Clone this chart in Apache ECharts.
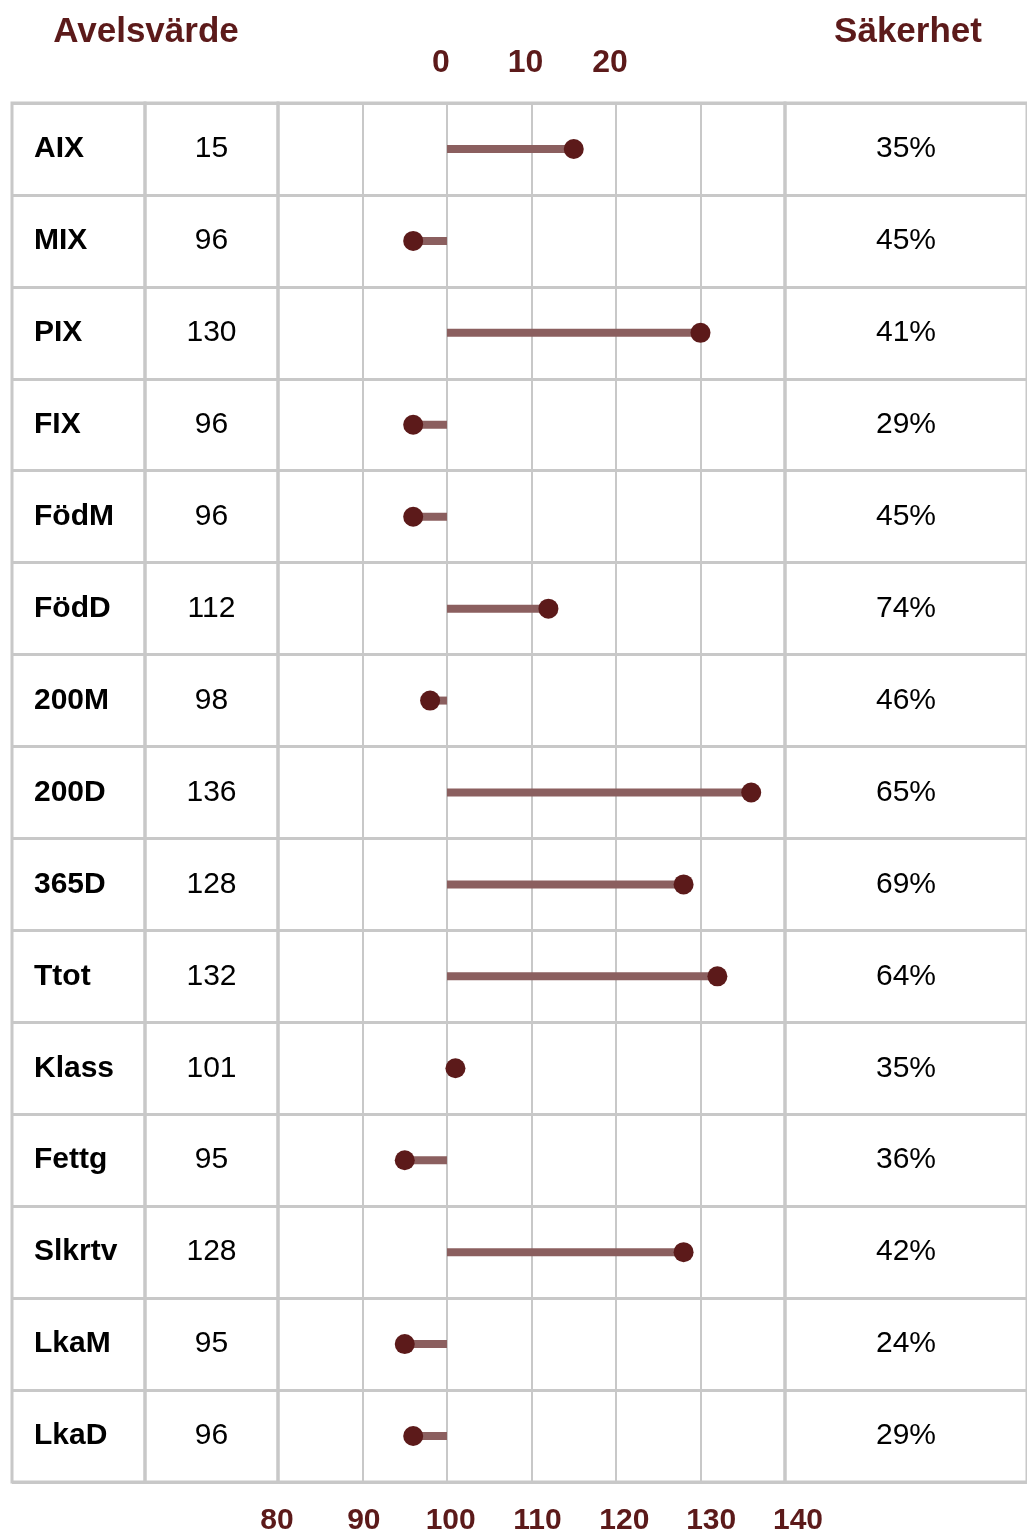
<!DOCTYPE html>
<html>
<head>
<meta charset="utf-8">
<script src="https://cdn.jsdelivr.net/npm/echarts@6/dist/echarts.min.js"></script>
<style>
html,body{margin:0;padding:0;background:#fff;}
#chart{width:1027px;height:1537px;}
</style>
</head>
<body>
<div id="chart"></div>
<script>
const categories = ['AIX','MIX','PIX','FIX','FödM','FödD','200M','200D','365D','Ttot','Klass','Fettg','Slkrtv','LkaM','LkaD'];
const avelsvarde = [15,96,130,96,96,112,98,136,128,132,101,95,128,95,96];
const sakerhet = [35,45,41,29,45,74,46,65,69,64,35,36,42,24,29];
const bottomTicks = [80,90,100,110,120,130,140];
const topTicks = [0,10,20];
const mainBase = 100;
const aixBase = 0;

const FONT = '"Liberation Sans", Arial, sans-serif';
const MAROON = '#5c1a1a';
const BAR = '#8b5f5f';
const LINE = '#c8c8c8';

const chart = echarts.init(document.getElementById('chart'), null, {renderer:'canvas'});

const TOP = 103, H = 1379;
function grid(left, width){
  return {left:left, width:width, top:TOP, height:H, show:true, borderColor:LINE, borderWidth:3, backgroundColor:'transparent', containLabel:false};
}
function catY(gridIndex, split){
  return {type:'category', gridIndex:gridIndex, data:categories, inverse:true,
    axisLine:{show:false}, axisTick:{show:false}, axisLabel:{show:false},
    splitLine:{show:split, lineStyle:{color:LINE, width:3}}};
}
function hiddenX(gridIndex){
  return {type:'value', gridIndex:gridIndex, min:0, max:1, show:false};
}

const mainRows = [], aixRows = [];
avelsvarde.forEach((v,i)=>{
  if(i===0) aixRows.push([v,i,aixBase]); else mainRows.push([v,i,mainBase]);
});

function lollipopLine(xIdx, yIdx, data){
  return {type:'custom', xAxisIndex:xIdx, yAxisIndex:yIdx, data:data, z:2,
    encode:{x:0,y:1},
    renderItem:function(params, api){
      const s = api.coord([api.value(2), api.value(1)]);
      const e = api.coord([api.value(0), api.value(1)]);
      return {type:'line', shape:{x1:s[0],y1:s[1],x2:e[0],y2:e[1]}, style:{stroke:BAR, lineWidth:8}};
    }};
}
function dots(xIdx, yIdx, data){
  return {type:'scatter', xAxisIndex:xIdx, yAxisIndex:yIdx, z:3, symbolSize:20,
    itemStyle:{color:MAROON, opacity:1}, data:data.map(d=>[d[0],d[1]])};
}
function textCol(xIdx, yIdx, x, texts, bold, align){
  return {type:'custom', xAxisIndex:xIdx, yAxisIndex:yIdx, z:4,
    data:texts.map((t,i)=>[x,i]),
    encode:{x:0,y:1},
    renderItem:function(params, api){
      const p = api.coord([api.value(0), api.value(1)]);
      return {type:'text', x:p[0], y:p[1],
        style:{text:texts[params.dataIndex], fill:'#000', fontSize:30, fontFamily:FONT,
          fontWeight:bold?'bold':'normal', align:align, verticalAlign:'middle'}};
    }};
}

const option = {
  animation:false,
  backgroundColor:'#fff',
  title:[
    {text:'Avelsvärde', left:146, top:15, textAlign:'center', padding:0,
      textStyle:{color:MAROON, fontSize:35, fontWeight:'bold', fontFamily:FONT}},
    {text:'Säkerhet', left:908, top:15, textAlign:'center', padding:0,
      textStyle:{color:MAROON, fontSize:35, fontWeight:'bold', fontFamily:FONT}}
  ],
  grid:[
    grid(12,133),    // 0 names
    grid(145,133),   // 1 values
    grid(278,507),   // 2 plot
    grid(785,244),   // 3 percent
    {left:277, width:521, top:TOP, height:H, show:false} // 4 label axis
  ],
  xAxis:[
    {type:'value', gridIndex:0, min:0, max:133, show:false},
    hiddenX(1),
    {type:'value', gridIndex:2, min:80, max:140, interval:10, position:'bottom',
      axisLine:{show:false}, axisTick:{show:false}, axisLabel:{show:false},
      splitLine:{show:true, lineStyle:{color:LINE, width:2}}},
    {type:'value', gridIndex:2, min:-20, max:40, interval:10, position:'top',
      axisLine:{show:false}, axisTick:{show:false}, splitLine:{show:false},
      axisLabel:{show:true, margin:24, color:MAROON, fontSize:32, fontWeight:'bold', fontFamily:FONT,
        padding:[0,12,0,0],
        formatter:v=>topTicks.indexOf(v)>=0?String(v):''}},
    hiddenX(3),
    {type:'value', gridIndex:4, min:80, max:140, interval:10, position:'bottom',
      axisLine:{show:false}, axisTick:{show:false}, splitLine:{show:false},
      axisLabel:{show:true, margin:24, color:MAROON, fontSize:30, fontWeight:'bold', fontFamily:FONT,
        formatter:v=>bottomTicks.indexOf(v)>=0?String(v):''}}
  ],
  yAxis:[
    catY(0,true), catY(1,true), catY(2,true), catY(3,true),
    {type:'category', gridIndex:4, data:categories, inverse:true, show:false}
  ],
  series:[
    lollipopLine(2,2,mainRows),
    lollipopLine(3,2,aixRows),
    dots(2,2,mainRows),
    dots(3,2,aixRows),
    textCol(0,0,22,categories,true,'left'),
    textCol(1,1,0.5,avelsvarde.map(String),false,'center'),
    textCol(4,3,0.5,sakerhet.map(v=>v+'%'),false,'center')
  ]
};
chart.setOption(option);
</script>
</body>
</html>
